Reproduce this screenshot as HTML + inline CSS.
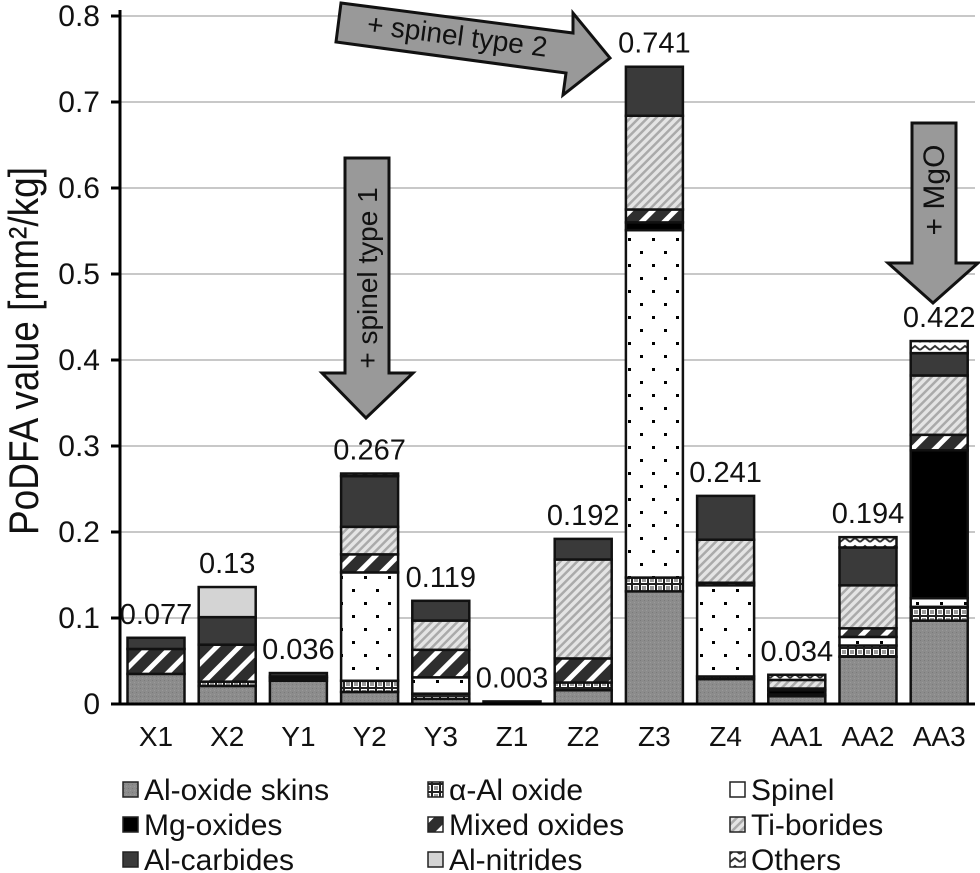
<!DOCTYPE html>
<html><head><meta charset="utf-8"><style>
html,body{margin:0;padding:0;background:#fff;}
svg{display:block;font-family:"Liberation Sans",Arial,sans-serif;}
</style></head><body>
<svg id="chart" width="980" height="873" viewBox="0 0 980 873">
<defs>
<pattern id="p-skins" width="4" height="4" patternUnits="userSpaceOnUse"><rect width="4" height="4" fill="#8c8c8c"/><rect x="0" y="0" width="1" height="1" fill="#7a7a7a"/><rect x="2" y="2" width="1" height="1" fill="#9a9a9a"/></pattern>
<pattern id="p-alpha" width="8" height="8" patternUnits="userSpaceOnUse"><rect width="8" height="8" fill="#fff"/><rect x="0" y="0" width="8" height="8" fill="none" stroke="#222" stroke-width="2"/><rect x="2" y="2" width="4" height="4" fill="#999"/></pattern>
<pattern id="p-spinel" width="24" height="26" patternUnits="userSpaceOnUse"><rect width="24" height="26" fill="#fff"/><rect x="4" y="4" width="3" height="3" fill="#000"/><rect x="16" y="17" width="3" height="3" fill="#000"/></pattern>
<pattern id="p-mixed" width="16" height="16" patternUnits="userSpaceOnUse" patternTransform="rotate(45)"><rect width="16" height="16" fill="#2e2e2e"/><rect x="0" y="0" width="5" height="16" fill="#fff"/></pattern>
<pattern id="p-ti" width="6" height="6" patternUnits="userSpaceOnUse" patternTransform="rotate(45)"><rect width="6" height="6" fill="#e4e4e4"/><rect x="0" y="0" width="2.5" height="6" fill="#aaa"/></pattern>
<pattern id="p-others" width="10" height="8" patternUnits="userSpaceOnUse"><rect width="10" height="8" fill="#fff"/><path d="M0 6 L5 2 L10 6" stroke="#333" stroke-width="2" fill="none"/></pattern>
</defs>
<g id="grid"></g>
<g id="bars"></g>
<g id="axes"></g>
<g id="arrows">
<g>
<polygon points="345,158 389,158 389,373 413,373 366,418 322,373 345,373" fill="#999" stroke="#111" stroke-width="3"/>
<text x="0" y="0" transform="translate(377,278) rotate(-90)" text-anchor="middle" font-size="28" fill="#111">+ spinel type 1</text>
</g>
<g>
<polygon points="341,3 573,33 573,13 610,58 563,95 566,73 336,42" fill="#999" stroke="#111" stroke-width="3"/>
<text x="0" y="0" transform="translate(456,45) rotate(7.5)" text-anchor="middle" font-size="28" fill="#111">+ spinel type 2</text>
</g>
<g>
<polygon points="912,123 956,123 956,263 978,263 933,303 888,263 912,263" fill="#999" stroke="#111" stroke-width="3"/>
<text x="0" y="0" transform="translate(944,190) rotate(-90)" text-anchor="middle" font-size="30" fill="#111">+ MgO</text>
</g>
</g>
<g id="legend"></g>
</svg>
<script>
const categories = ["X1","X2","Y1","Y2","Y3","Z1","Z2","Z3","Z4","AA1","AA2","AA3"];
const totalLabels = ["0.077","0.13","0.036","0.267","0.119","0.003","0.192","0.741","0.241","0.034","0.194","0.422"];
const seriesNames = ["Al-oxide skins","α-Al oxide","Spinel","Mg-oxides","Mixed oxides","Ti-borides","Al-carbides","Al-nitrides","Others"];
const skins   = [0.035,0.021,0.027,0.014,0.006,0,0.016,0.131,0.029,0.009,0.055,0.097];
const alphaAl = [0,0.005,0.003,0.013,0.006,0,0.009,0.016,0.003,0.002,0.013,0.016];
const spinel  = [0,0,0,0.126,0.019,0,0,0.404,0.106,0,0.010,0.010];
const mgOx    = [0,0,0,0,0,0.003,0,0.009,0,0.005,0,0.172];
const mixed   = [0.029,0.043,0.002,0.021,0.032,0,0.028,0.015,0.003,0.002,0.010,0.018];
const tiBor   = [0,0,0,0.032,0.034,0,0.115,0.109,0.050,0.010,0.050,0.069];
const carb    = [0.013,0.032,0.004,0.059,0.023,0,0.024,0.057,0.051,0,0.044,0.026];
const nitr    = [0,0.035,0,0,0,0,0,0,0,0,0,0];
const others  = [0,0,0,0.003,0,0,0,0,0,0.006,0.012,0.014];
const yTicks = [0,0.1,0.2,0.3,0.4,0.5,0.6,0.7,0.8];
const yTickLabels = ["0","0.1","0.2","0.3","0.4","0.5","0.6","0.7","0.8"];

const series=[skins,alphaAl,spinel,mgOx,mixed,tiBor,carb,nitr,others];
const fills=["url(#p-skins)","url(#p-alpha)","url(#p-spinel)","#000","url(#p-mixed)","url(#p-ti)","#3a3a3a","#d4d4d4","url(#p-others)"];
const NS="http://www.w3.org/2000/svg";
const X0=120,X1=975,Y0=704,Ymax=0.8,Ytop=16;
function y(v){return Y0-(v/Ymax)*(Y0-Ytop);}
function xc(i){return X0+36+i*71.2;}
const barW=57;
function mk(tag,attrs,parent){const e=document.createElementNS(NS,tag);for(const k in attrs)e.setAttribute(k,attrs[k]);parent.appendChild(e);return e;}
const grid=document.getElementById('grid'),bars=document.getElementById('bars'),axes=document.getElementById('axes'),legend=document.getElementById('legend');
yTicks.forEach((t,i)=>{
  if(i>0){const g=mk('line',{x1:X0,x2:X1,y1:y(t),y2:y(t),stroke:'#c8c8c8','stroke-width':2},grid);
  
  }
  const tk=mk('line',{x1:X0-9,x2:X0,y1:y(t),y2:y(t),stroke:'#000','stroke-width':3},axes);
  
  
  const tl=mk('text',{x:100,y:y(t)+10,'text-anchor':'end','font-size':30,fill:'#111'},axes);
  tl.textContent=yTickLabels[i];
  
  
});
const ax=mk('line',{x1:X0,x2:X0,y1:Ytop-6,y2:Y0,stroke:'#000','stroke-width':3},axes);


const bx=mk('line',{x1:X0-9,x2:X1,y1:Y0,y2:Y0,stroke:'#000','stroke-width':3},axes);


const yt=mk('text',{x:0,y:0,transform:`translate(38,351) rotate(-90)`,'text-anchor':'middle','font-size':42,textLength:368,lengthAdjust:'spacingAndGlyphs',fill:'#111'},axes);
yt.textContent='PoDFA value [mm²/kg]';


categories.forEach((c,i)=>{
  let acc=0;const cx=xc(i);
  series.forEach((s,k)=>{
    const v=s[i]; if(v<=0) return;
    const r=mk('rect',{x:cx-barW/2,y:y(acc+v),width:barW,height:y(acc)-y(acc+v),fill:fills[k],stroke:'#111','stroke-width':2.5},bars);
    
    
    acc+=v;
  });
  const lbl=mk('text',{x:cx,y:y(acc)-14,'text-anchor':'middle','font-size':29,fill:'#111'},bars);
  lbl.textContent=totalLabels[i];
  
  
  const xl=mk('text',{x:cx,y:746,'text-anchor':'middle','font-size':28,fill:'#111'},axes);
  xl.textContent=c;
  
  
});
const colX=[123,428,730],rowY=[790,825,860];
seriesNames.forEach((n,k)=>{
  const col=k%3,row=Math.floor(k/3);
  const g=mk('g',{},legend);
  
  
  mk('rect',{x:colX[col],y:rowY[row]-8,width:15,height:15,fill:fills[k],stroke:'#222','stroke-width':1.5},g);
  const t=mk('text',{x:colX[col]+21,y:rowY[row]+10,'font-size':30,fill:'#111'},g);
  t.textContent=n;
});
</script>
</body></html>
